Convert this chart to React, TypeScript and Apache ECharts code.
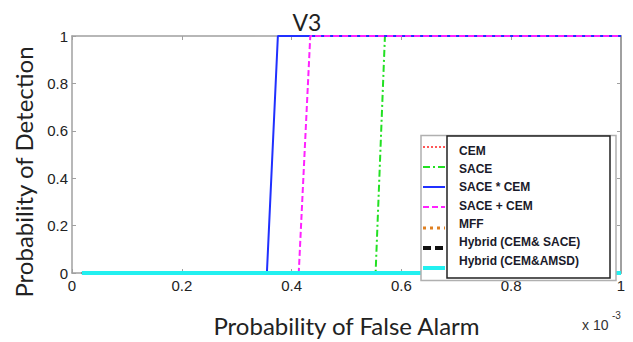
import React, { useEffect, useRef } from "react";
import * as echarts from "echarts";

// x values are in units of 1e-3 (Probability of False Alarm)
const legendNames = [
  "CEM",
  "SACE",
  "SACE * CEM",
  "SACE + CEM",
  "MFF",
  "Hybrid (CEM& SACE)",
  "Hybrid (CEM&AMSD)",
];
const cemX = [0.018, 1];
const cemY = [0, 0];
const saceX = [0.018, 0.553, 0.57, 1];
const saceY = [0, 0, 1, 1];
const saceTimesCemX = [0.018, 0.355, 0.375, 1];
const saceTimesCemY = [0, 0, 1, 1];
const sacePlusCemX = [0.018, 0.413, 0.434, 1];
const sacePlusCemY = [0, 0, 1, 1];
const mffX = [0.018, 1];
const mffY = [0, 0];
const hybridSaceX = [0.018, 1];
const hybridSaceY = [0, 0];
const hybridAmsdX = [0.018, 1];
const hybridAmsdY = [0, 0];
const xTicks = [0, 0.2, 0.4, 0.6, 0.8, 1];
const yTicks = [0, 0.2, 0.4, 0.6, 0.8, 1];

const zip = (xs: number[], ys: number[]) => xs.map((x, i) => [x, ys[i]]);

// legend sample styles
const styles = [
  { color: "#ff2020", width: 1.5, type: [2, 2] },
  { color: "#22e022", width: 2, type: [7, 3, 2, 3] },
  { color: "#2030ff", width: 2, type: "solid" },
  { color: "#ff22ff", width: 2, type: [6, 3] },
  { color: "#e08020", width: 3, type: [3, 4] },
  { color: "#111111", width: 4, type: [8, 4] },
  { color: "#22f0f0", width: 4, type: "solid" },
];
// series line widths (hidden ones stay under the cyan line)
const seriesWidths = [1.5, 2, 2, 2, 2.5, 2.5, 4];

const seriesData = [
  zip(cemX, cemY),
  zip(saceX, saceY),
  zip(saceTimesCemX, saceTimesCemY),
  zip(sacePlusCemX, sacePlusCemY),
  zip(mffX, mffY),
  zip(hybridSaceX, hybridSaceY),
  zip(hybridAmsdX, hybridAmsdY),
];

const fmt = (v: number) => String(Math.round(v * 10) / 10);

export default function App() {
  const ref = useRef<HTMLDivElement>(null);
  useEffect(() => {
    if (!ref.current) return;
    const chart = echarts.init(ref.current, undefined, { renderer: "svg" });
    const axisGray = "#a0a0a0";
    const tickFont = {
      fontFamily: "Liberation Sans",
      fontSize: 15,
      color: "#222",
    };
    const legendRowsText = [151, 169, 187, 206, 224, 242, 261];
    const legendRowsLine = [147, 167, 187, 207, 228, 248, 268];
    const legendGraphics: any[] = [
      {
        type: "rect",
        shape: { x: 421, y: 135.5, width: 195, height: 145 },
        style: { fill: "#fff", stroke: "#b0b0b0", lineWidth: 1.5 },
        z: 100,
      },
      {
        type: "rect",
        shape: { x: 447, y: 136, width: 163, height: 142 },
        style: { fill: "#fff", stroke: "#222", lineWidth: 1.5 },
        z: 101,
      },
    ];
    legendNames.forEach((name, i) => {
      const s = styles[i];
      legendGraphics.push({
        type: "line",
        shape: { x1: 423, y1: legendRowsLine[i], x2: 445, y2: legendRowsLine[i] },
        style: {
          stroke: s.color,
          lineWidth: s.width,
          lineDash: s.type === "solid" ? null : s.type,
        },
        z: 102,
      });
      legendGraphics.push({
        type: "text",
        x: 459,
        y: legendRowsText[i],
        style: {
          text: name,
          fill: "#1a1a2a",
          font: "bold 12px 'Liberation Sans'",
          textVerticalAlign: "middle",
        },
        z: 102,
      });
    });

    chart.setOption({
      animation: false,
      title: {
        text: "V3",
        left: 302,
        top: 5,
        textAlign: "center",
        textStyle: {
          fontFamily: "Lato",
          fontSize: 23,
          fontWeight: "normal",
          color: "#222",
        },
      },
      grid: { left: 72, right: 12, top: 36, bottom: 54 },
      xAxis: [
        {
          type: "value",
          min: 0,
          max: 1,
          interval: 0.2,
          position: "bottom",
          name: "Probability of False Alarm",
          nameLocation: "middle",
          nameGap: 40,
          nameTextStyle: { fontFamily: "Lato", fontSize: 24, color: "#222" },
          axisLine: { show: true, lineStyle: { color: axisGray, width: 1.5 } },
          axisTick: { show: true, inside: true, length: 4, lineStyle: { color: axisGray } },
          axisLabel: { ...tickFont, margin: 5, formatter: fmt, customValues: xTicks },
          splitLine: { show: false },
        },
        {
          type: "value",
          min: 0,
          max: 1,
          interval: 0.2,
          position: "top",
          axisLine: { show: true, onZero: false, lineStyle: { color: axisGray, width: 1.5 } },
          axisTick: { show: true, inside: true, length: 4, lineStyle: { color: axisGray } },
          axisLabel: { show: false },
          splitLine: { show: false },
        },
      ],
      yAxis: [
        {
          type: "value",
          min: 0,
          max: 1,
          interval: 0.2,
          position: "left",
          axisLine: { show: true, lineStyle: { color: axisGray, width: 1.5 } },
          axisTick: { show: true, inside: true, length: 4, lineStyle: { color: axisGray } },
          axisLabel: { ...tickFont, margin: 4, formatter: fmt, customValues: yTicks },
          splitLine: { show: false },
        },
        {
          type: "value",
          min: 0,
          max: 1,
          interval: 0.2,
          position: "right",
          axisLine: { show: true, onZero: false, lineStyle: { color: axisGray, width: 2 } },
          axisTick: { show: true, inside: true, length: 4, lineStyle: { color: axisGray } },
          axisLabel: { show: false },
          splitLine: { show: false },
        },
      ],
      series: legendNames.map((name, i) => ({
        name,
        type: "line",
        xAxisIndex: 0,
        yAxisIndex: 0,
        data: seriesData[i],
        showSymbol: false,
        symbol: "none",
        clip: false,
        lineStyle: {
          color: styles[i].color,
          width: seriesWidths[i],
          type: styles[i].type as any,
        },
        z: 10 + i,
      })),
      graphic: [
        {
          type: "text",
          x: 23,
          y: 172,
          rotation: Math.PI / 2,
          style: {
            text: "Probability of Detection",
            font: "24px Lato",
            fill: "#222",
            textAlign: "center",
            textVerticalAlign: "middle",
          },
        },
        {
          type: "text",
          x: 582,
          y: 325,
          style: {
            text: "x 10",
            font: "14px 'Liberation Sans'",
            fill: "#333",
            textVerticalAlign: "middle",
          },
        },
        {
          type: "text",
          x: 612,
          y: 315,
          style: {
            text: "-3",
            font: "10px 'Liberation Sans'",
            fill: "#333",
            textVerticalAlign: "middle",
          },
        },
        ...legendGraphics,
      ],
    });
    return () => chart.dispose();
  }, []);
  return (
    <div
      ref={ref}
      style={{ position: "absolute", left: 0, top: 0, width: 633, height: 342, background: "#fff" }}
    />
  );
}
